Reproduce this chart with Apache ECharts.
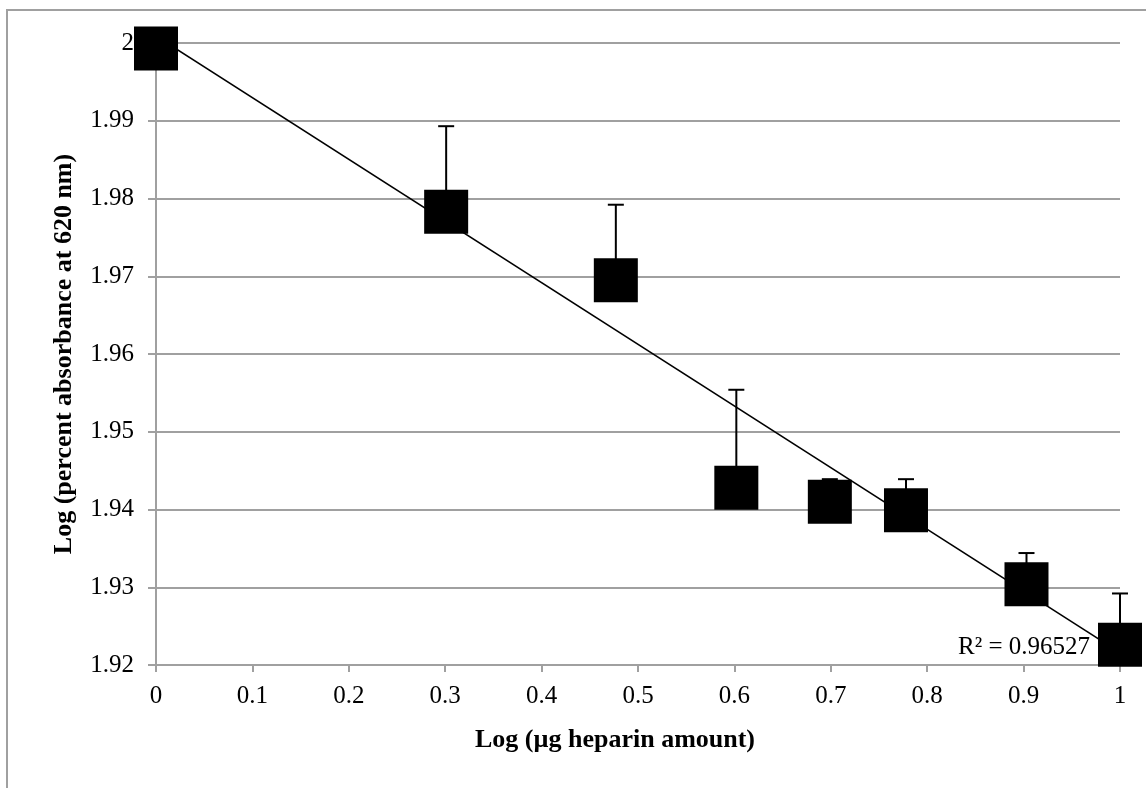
<!DOCTYPE html>
<html>
<head>
<meta charset="utf-8">
<script src="https://cdn.jsdelivr.net/npm/echarts@6/dist/echarts.min.js"></script>
<style>
  html, body { margin: 0; padding: 0; background: #fff; }
  #chart { width: 1146px; height: 788px; }
</style>
</head>
<body>
<div id="chart"></div>
<script>
// ---- data ----
const xValues = [0, 0.301, 0.477, 0.602, 0.699, 0.778, 0.903, 1];
const yValues = [1.9993, 1.9783, 1.9695, 1.9428, 1.9410, 1.9399, 1.9304, 1.9226];
const errPlus = [0, 0.0110, 0.0097, 0.0126, 0.0029, 0.0040, 0.0040, 0.0066];
// linear trendline as drawn in the reference
const trendIntercept = 2.0009;
const trendSlope = -0.0793;
const trendRange = [0, 1];
const r2Text = 'R² = 0.96527';
const xTitle = 'Log (µg heparin amount)';
const yTitle = 'Log (percent absorbance at 620 nm)';

const FONT = "'Liberation Serif', 'Times New Roman', serif";
const GRID_COLOR = '#a0a0a0';

const pointData = xValues.map((x, i) => [x, yValues[i]]);
const errData = xValues.map((x, i) => [x, yValues[i], errPlus[i]]);
const trendData = trendRange.map(x => [x, trendIntercept + trendSlope * x]);

const chart = echarts.init(document.getElementById('chart'), null, { renderer: 'canvas' });

chart.setOption({
  animation: false,
  backgroundColor: '#fff',
  grid: { left: 156, right: 26, top: 43, bottom: 123, containLabel: false, outerBoundsMode: 'none' },
  xAxis: {
    type: 'value', min: 0, max: 1, interval: 0.1,
    axisLine: { onZero: false, lineStyle: { color: GRID_COLOR, width: 2 } },
    axisTick: { show: true, length: 7, lineStyle: { color: GRID_COLOR, width: 2 } },
    axisLabel: { color: '#000', fontFamily: FONT, fontSize: 25, margin: 19,
      formatter: v => String(+v.toFixed(1)) },
    splitLine: { show: false }
  },
  yAxis: {
    type: 'value', min: 1.92, max: 2, interval: 0.01,
    axisLine: { show: true, lineStyle: { color: GRID_COLOR, width: 2 } },
    axisTick: { show: true, length: 8, lineStyle: { color: GRID_COLOR, width: 2 } },
    axisLabel: { color: '#000', fontFamily: FONT, fontSize: 25, margin: 22,
      formatter: v => String(+v.toFixed(2)) },
    splitLine: { show: true, lineStyle: { color: GRID_COLOR, width: 2 } }
  },
  graphic: [
    { type: 'rect', silent: true, z: -1,
      shape: { x: 7, y: 10, width: 1300, height: 900 },
      style: { fill: 'none', stroke: GRID_COLOR, lineWidth: 2 } },
    { type: 'text', silent: true,
      position: [615, 740],
      style: { text: xTitle, font: "bold 26px " + FONT, fill: '#000', align: 'center', verticalAlign: 'middle' } },
    { type: 'text', silent: true,
      position: [64, 354], rotation: Math.PI / 2,
      style: { text: yTitle, font: "bold 26px " + FONT, fill: '#000', align: 'center', verticalAlign: 'middle' } },
    { type: 'text', silent: true, z: 10,
      position: [1090, 647],
      style: { text: r2Text, font: "25px " + FONT, fill: '#000', align: 'right', verticalAlign: 'middle' } }
  ],
  series: [
    {
      type: 'line', data: trendData, showSymbol: false, symbol: 'none',
      lineStyle: { color: '#000', width: 1.6 }, z: 2, silent: true
    },
    {
      type: 'custom', data: errData, clip: false, z: 3, silent: true,
      renderItem: (params, api) => {
        const x = api.value(0), y = api.value(1), e = api.value(2);
        if (!e) return null;
        const p0 = api.coord([x, y]);
        const p1 = api.coord([x, y + e]);
        const hw = 8;
        return {
          type: 'group',
          children: [
            { type: 'line', shape: { x1: p0[0], y1: p0[1], x2: p1[0], y2: p1[1] },
              style: { stroke: '#000', lineWidth: 2 } },
            { type: 'line', shape: { x1: p1[0] - hw, y1: p1[1], x2: p1[0] + hw, y2: p1[1] },
              style: { stroke: '#000', lineWidth: 2 } }
          ]
        };
      }
    },
    {
      type: 'scatter', data: pointData, symbol: 'rect', symbolSize: 44,
      itemStyle: { color: '#000', opacity: 1 }, clip: false, z: 4, silent: true
    }
  ]
});
</script>
</body>
</html>
